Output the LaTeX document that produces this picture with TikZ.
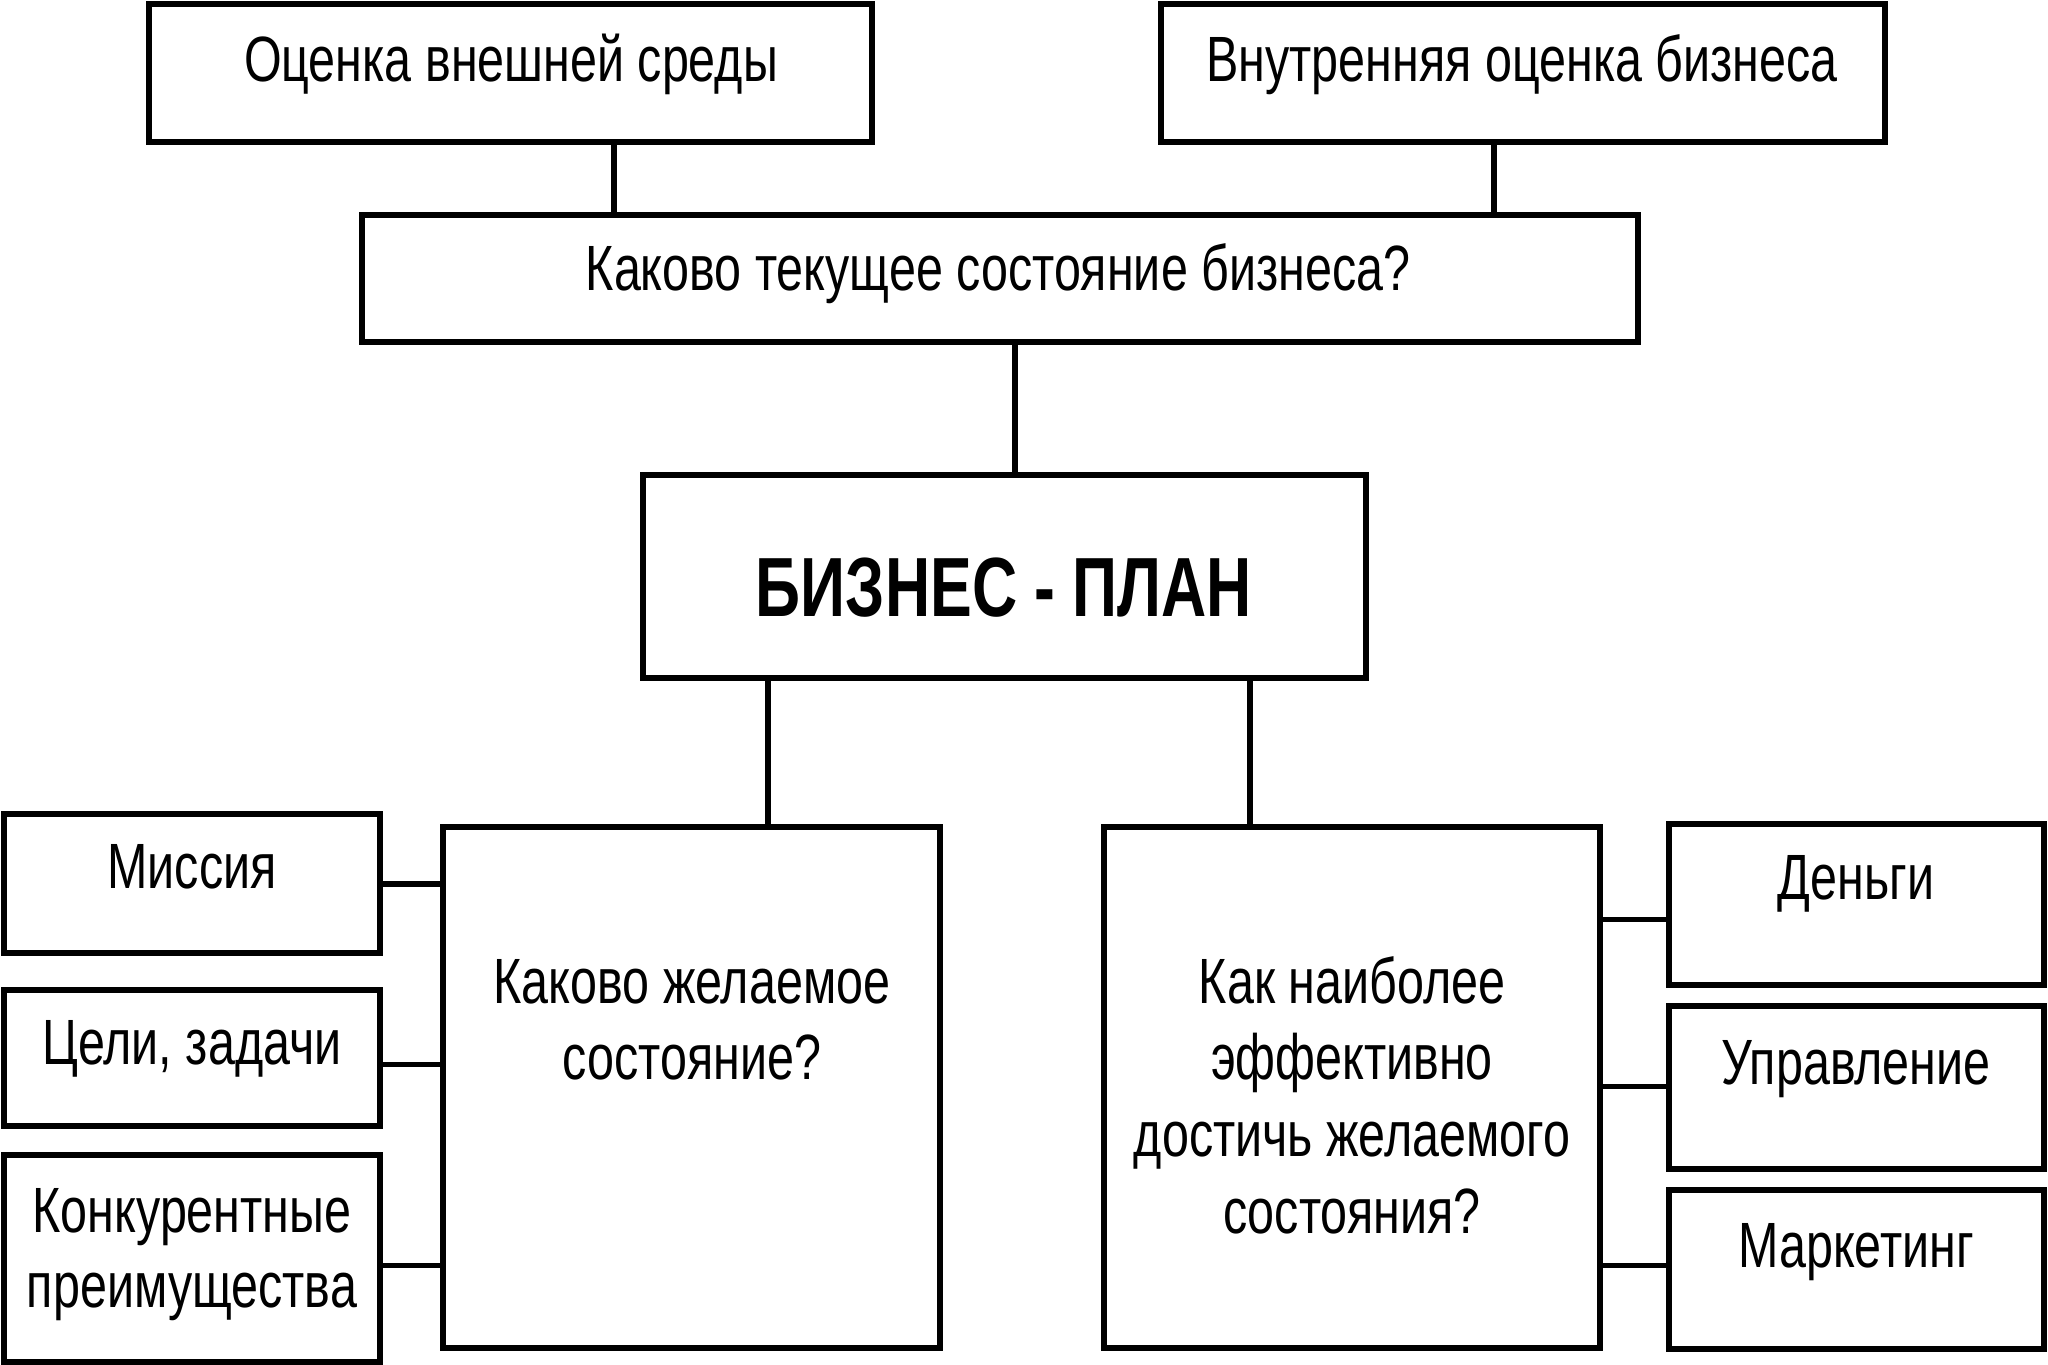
\documentclass[tikz,border=0pt]{standalone}
\usepackage{fontspec}
\setmainfont{Liberation Sans}[FakeStretch=0.757]
\newfontfamily\titlefont{Liberation Sans}[FakeStretch=0.745]
\begin{document}
\begin{tikzpicture}[x=1pt,y=-1pt,
  box/.style={draw=black, line width=6pt, rectangle, inner sep=0pt, outer sep=0pt, fill=white},
  txt/.style={anchor=base, inner sep=0pt, align=center, font=\fontsize{64}{76}\selectfont},
  mtxt/.style={anchor=base, inner sep=0pt, align=flush center, text width=#1, font=\fontsize{64}{76}\selectfont},
  link/.style={draw=black, line width=5.5pt}]
\useasboundingbox[fill=white] (0,0) rectangle (2048,1365);
% boxes
\node[box, minimum width=723pt, minimum height=138pt] (b1) at (510.5,73) {};
\node[box, minimum width=724pt, minimum height=138pt] (b2) at (1523,73) {};
\node[box, minimum width=1276pt, minimum height=127pt] (b3) at (1000,278.5) {};
\node[box, minimum width=723pt, minimum height=203pt] (b4) at (1004.5,576.5) {};
\node[box, minimum width=497pt, minimum height=521pt] (b5) at (691.5,1087.5) {};
\node[box, minimum width=496pt, minimum height=521pt] (b6) at (1352,1087.5) {};
\node[box, minimum width=376pt, minimum height=139pt] (m1) at (192,883.5) {};
\node[box, minimum width=376pt, minimum height=136pt] (m2) at (192,1058) {};
\node[box, minimum width=376pt, minimum height=207pt] (m3) at (192,1258.5) {};
\node[box, minimum width=375pt, minimum height=161pt] (r1) at (1856.5,904.5) {};
\node[box, minimum width=375pt, minimum height=163pt] (r2) at (1856.5,1087.5) {};
\node[box, minimum width=375pt, minimum height=159pt] (r3) at (1856.5,1269.5) {};
% texts
\node[txt] (t1) at (511,81) {Оценка внешней среды};
\node[txt] (t2) at (1522,81) {Внутренняя оценка бизнеса};
\node[txt] (t3) at (998,290) {Каково текущее состояние бизнеса?};
\node[anchor=base, inner sep=0pt, font=\titlefont\bfseries\fontsize{84}{100}\selectfont] (t4) at (1004,616) {БИЗНЕС - ПЛАН};
\node[mtxt=480pt] (t5) at (692,1003) {Каково желаемое\\состояние?};
\node[mtxt=480pt, font=\fontsize{64}{76.7}\selectfont] (t6) at (1352,1003) {Как наиболее\\эффективно\\достичь желаемого\\состояния?};
\node[txt] (tm1) at (192,888) {Миссия};
\node[txt] (tm2) at (192,1064) {Цели, задачи};
\node[mtxt=370pt, font=\fontsize{64}{75}\selectfont] (tm3) at (192,1232) {Конкурентные\\преимущества};
\node[txt] (tr1) at (1856,899) {Деньги};
\node[txt] (tr2) at (1856,1084) {Управление};
\node[txt] (tr3) at (1856,1267) {Маркетинг};
% connector columns / rows
\coordinate (x1) at (614,0);
\coordinate (x2) at (1494,0);
\coordinate (x3) at (1015,0);
\coordinate (x4) at (768,0);
\coordinate (x5) at (1250,0);
\coordinate (y1) at (0,884);
\coordinate (y2) at (0,1064.5);
\coordinate (y3) at (0,1265.5);
\coordinate (y4) at (0,919.5);
\coordinate (y5) at (0,1086.5);
\coordinate (y6) at (0,1265.5);
% connectors
\draw[link] (x1 |- b1.south) -- (x1 |- b3.north);
\draw[link] (x2 |- b2.south) -- (x2 |- b3.north);
\draw[link] (x3 |- b3.south) -- (x3 |- b4.north);
\draw[link] (x4 |- b4.south) -- (x4 |- b5.north);
\draw[link] (x5 |- b4.south) -- (x5 |- b6.north);
\draw[link] (m1.east |- y1) -- (b5.west |- y1);
\draw[link] (m2.east |- y2) -- (b5.west |- y2);
\draw[link] (m3.east |- y3) -- (b5.west |- y3);
\draw[link] (b6.east |- y4) -- (r1.west |- y4);
\draw[link] (b6.east |- y5) -- (r2.west |- y5);
\draw[link] (b6.east |- y6) -- (r3.west |- y6);
\end{tikzpicture}
\end{document}
